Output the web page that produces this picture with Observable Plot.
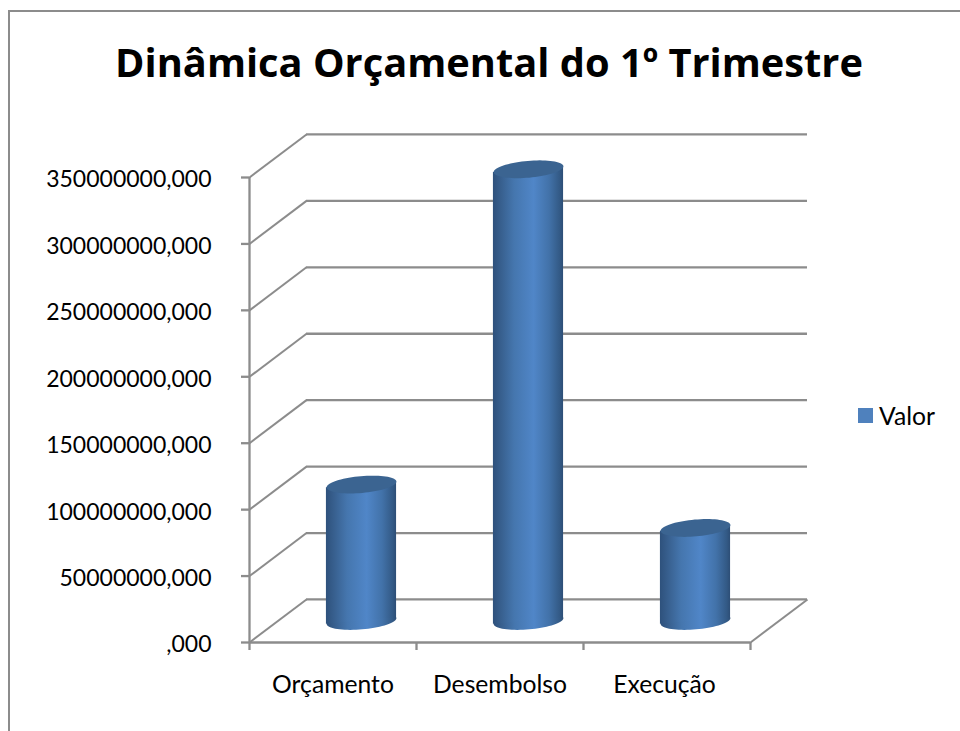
<!DOCTYPE html>
<html>
<head>
<meta charset="utf-8">
<script src="https://cdn.jsdelivr.net/npm/d3@7"></script>
<script src="https://cdn.jsdelivr.net/npm/@observablehq/plot@0.6"></script>
<style>
  html, body { margin: 0; padding: 0; background: #fff; overflow: hidden; width: 960px; height: 731px; }
  #chart { position: absolute; left: 0; top: 0; }
  #frame { position: absolute; left: 8px; top: 10px; width: 980px; height: 760px; border: 2px solid #8c8c8c; box-sizing: border-box; }
  #title { position: absolute; left: 0; top: 34px; width: 978px; text-align: center; font: bold 39.8px "Open Sans", sans-serif; color: #000; white-space: nowrap; }
  #legend { position: absolute; left: 858px; top: 401px; display: flex; align-items: center; font: 24.7px Lato, sans-serif; color: #000; }
  #legend i { display: block; width: 15px; height: 15px; background: #4f81bd; margin-right: 6px; }
</style>
</head>
<body>
<div id="frame"></div>
<div id="title">Dinâmica Orçamental do 1º Trimestre</div>
<div id="chart"></div>
<div id="legend"><i></i><span>Valor</span></div>
<script>
const categories = ["Orçamento", "Desembolso", "Execução"];
const values = [102.7e6, 340e6, 70e6];
const yTicks = [0, 50e6, 100e6, 150e6, 200e6, 250e6, 300e6, 350e6];
const labelPositions = [0.5, 1.5, 2.485];
const seriesName = "Valor";

// depth of the 3D box, in scale units
const depthX = 0.3413, depthY = 32.4e6;
const halfWidth = 0.21, tilt = 2.5e6;
const gray = "#8c8c8c";

const ellipse = {
  draw(ctx, size) {
    const rx = Math.sqrt(size / Math.PI), ry = rx * 0.24, a = -5 * Math.PI / 180;
    for (let i = 0; i <= 72; i++) {
      const t = i / 72 * 2 * Math.PI;
      const px = rx * Math.cos(t), py = ry * Math.sin(t);
      const qx = px * Math.cos(a) - py * Math.sin(a), qy = px * Math.sin(a) + py * Math.cos(a);
      i ? ctx.lineTo(qx, qy) : ctx.moveTo(qx, qy);
    }
    ctx.closePath();
  }
};

const cyl = categories.map((c, i) => ({
  c, v: values[i], x: i + 0.5 + depthX / 2, base: depthY / 2
}));
const body = cyl.flatMap(d => [
  {c: d.c, x: d.x - halfWidth, y1: d.base - tilt, y2: d.base + d.v - tilt},
  {c: d.c, x: d.x + halfWidth, y1: d.base + tilt, y2: d.base + d.v + tilt}
]);

const defs = () => {
  const s = d3.create("svg:defs");
  const g = s.append("linearGradient").attr("id", "cyl");
  [[0, "#2e517c"], [0.12, "#38608f"], [0.3, "#4576ae"], [0.58, "#5086c8"], [0.8, "#4272a9"], [0.95, "#335a86"], [1, "#2d4e76"]]
    .forEach(([o, c]) => g.append("stop").attr("offset", o).attr("stop-color", c));
  return s.node();
};

const plot = Plot.plot({
  width: 960, height: 731,
  marginLeft: 249, marginRight: 210, marginTop: 177, marginBottom: 89,
  style: {fontFamily: "Lato, sans-serif", fontSize: "23px", color: "#000", background: "transparent", overflow: "visible"},
  x: {domain: [0, 3], range: [249, 750]},
  y: {domain: [0, 350e6], range: [642, 177]},
  marks: [
    defs,
    // back wall gridlines
    Plot.ruleY(yTicks, {y: d => d + depthY, x1: depthX, x2: 3 + depthX, stroke: gray, strokeWidth: 2.3, strokeOpacity: 1}),
    // side wall gridlines
    Plot.link(yTicks, {x1: 0, x2: depthX, y1: d => d, y2: d => d + depthY, stroke: gray, strokeWidth: 2, strokeOpacity: 1, markerEnd: "none"}),
    // floor right edge
    Plot.link([0], {x1: 3, x2: 3 + depthX, y1: 0, y2: depthY, stroke: gray, strokeWidth: 2}),
    // front axes
    Plot.ruleX([0], {y1: 0, y2: 350e6, stroke: gray, strokeWidth: 2.3}),
    Plot.ruleY([0], {x1: 0, x2: 3, stroke: gray, strokeWidth: 2.3}),
    Plot.axisY({ticks: yTicks, tickSize: 8, tickFormat: () => "", stroke: gray, strokeWidth: 2.3, strokeOpacity: 1, label: null}),
    Plot.axisY({ticks: yTicks, tickSize: 0, tickPadding: 38, dy: 2.5, fill: "#000", textStroke: "none", label: null,
      tickFormat: d => (d === 0 ? "" : String(d)) + ",000"}),
    Plot.axisX({ticks: [0, 1, 2, 3], tickSize: 8, tickFormat: () => "", stroke: gray, strokeWidth: 2.3, strokeOpacity: 1, label: null}),
    Plot.text(categories, {x: (d, i) => labelPositions[i], y: 0, dy: 43, text: d => d, fill: "#000", fontSize: 24.7}),
    // cylinders
    Plot.dot(cyl, {x: "x", y: "base", symbol: ellipse, r: 35, fill: "url(#cyl)", stroke: "none"}),
    Plot.areaY(body, {x: "x", y1: "y1", y2: "y2", z: "c", fill: "url(#cyl)", stroke: "none", curve: "linear"}),
    Plot.dot(cyl, {x: "x", y: d => d.base + d.v, symbol: ellipse, r: 35, fill: "#3b6491", stroke: "none"})
  ]
});
document.getElementById("chart").append(plot);
</script>
</body>
</html>
